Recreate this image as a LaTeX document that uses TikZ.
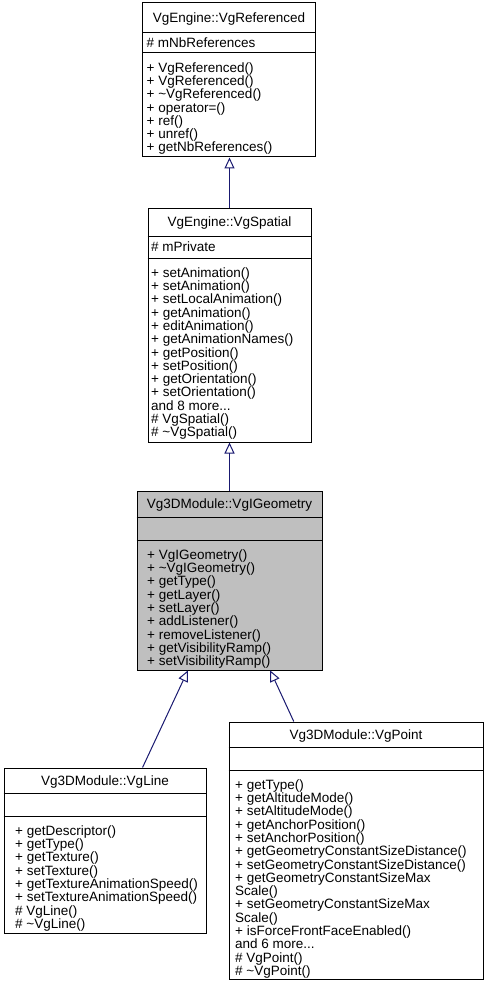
\documentclass[tikz,border=0pt]{standalone}
\usepackage{fontspec}
\newfontfamily\dxfont{Liberation Sans}
\usetikzlibrary{calc,arrows.meta}
\definecolor{edgeblue}{HTML}{191970}
\definecolor{basegray}{HTML}{BFBFBF}

\begin{document}
\begin{tikzpicture}[x=1pt,y=-1pt,
		classbox/.style={draw=black,line width=1pt,inner sep=0pt},
		ctitle/.style={font=\dxfont\fontsize{13.5}{13.3}\selectfont,inner sep=0pt,anchor=base},
		member/.style={font=\dxfont\fontsize{13.5}{13.3}\selectfont,inner sep=0pt,align=left,anchor=north west},
		inherit/.style={draw=edgeblue,line width=1pt,-{Triangle[open,length=11pt,width=10pt]}}]
			\useasboundingbox (0,0) rectangle (484,987);
			\node[classbox,minimum width=173pt,minimum height=154pt] (ref) at (229,80) {};
			\draw[line width=1pt] (ref.west |- 0,33)--(ref.east |- 0,33) (ref.west |- 0,53)--(ref.east |- 0,53);
			\node[ctitle] (ref-name) at (229,22.8) {VgEngine::VgReferenced};
			\node[member,anchor=base west] (ref-attr) at (146.5,48) {\#\ mNbReferences};
			\node[member] (ref-ops) at (146.5,62) {\rule{0pt}{10pt}+ VgReferenced()\\+ VgReferenced()\\+ \textasciitilde VgReferenced()\\+ operator=()\\+ ref()\\+ unref()\\+ getNbReferences()};

			\node[classbox,minimum width=163pt,minimum height=234pt] (spatial) at (229.5,325) {};
			\draw[line width=1pt] (spatial.west |- 0,236)--(spatial.east |- 0,236) (spatial.west |- 0,258)--(spatial.east |- 0,258);
			\node[ctitle] (spatial-name) at (229.5,226.8) {VgEngine::VgSpatial};
			\node[member,anchor=base west] (spatial-attr) at (151,251) {\#\ mPrivate};
			\node[member] (spatial-ops) at (151,267) {\rule{0pt}{10pt}+ setAnimation()\\+ setAnimation()\\+ setLocalAnimation()\\+ getAnimation()\\+ editAnimation()\\+ getAnimationNames()\\+ getPosition()\\+ setPosition()\\+ getOrientation()\\+ setOrientation()\\and 8 more...\\\#\ VgSpatial()\\\#\ \textasciitilde VgSpatial()};

			\node[classbox,fill=basegray,minimum width=185pt,minimum height=179pt] (geom) at (229.5,580.5) {};
			\draw[line width=1pt] (geom.west |- 0,517)--(geom.east |- 0,517) (geom.west |- 0,540)--(geom.east |- 0,540);
			\node[ctitle] (geom-name) at (229.5,508.8) {Vg3DModule::VgIGeometry};
			\node[member] (geom-ops) at (147,549) {\rule{0pt}{10pt}+ VgIGeometry()\\+ \textasciitilde VgIGeometry()\\+ getType()\\+ getLayer()\\+ setLayer()\\+ addListener()\\+ removeListener()\\+ getVisibilityRamp()\\+ setVisibilityRamp()};

			\node[classbox,minimum width=202pt,minimum height=165pt] (line) at (105,850.5) {};
			\draw[line width=1pt] (line.west |- 0,793)--(line.east |- 0,793) (line.west |- 0,816)--(line.east |- 0,816);
			\node[ctitle] (line-name) at (105,785.3) {Vg3DModule::VgLine};
			\node[member] (line-ops) at (15,825) {\rule{0pt}{10pt}+ getDescriptor()\\+ getType()\\+ getTexture()\\+ setTexture()\\+ getTextureAnimationSpeed()\\+ setTextureAnimationSpeed()\\\#\ VgLine()\\\#\ \textasciitilde VgLine()};

			\node[classbox,minimum width=254pt,minimum height=257pt] (point) at (356,850.5) {};
			\draw[line width=1pt] (point.west |- 0,747)--(point.east |- 0,747) (point.west |- 0,770)--(point.east |- 0,770);
			\node[ctitle] (point-name) at (356,739.3) {Vg3DModule::VgPoint};
			\node[member] (point-ops) at (235,779) {\rule{0pt}{10pt}+ getType()\\+ getAltitudeMode()\\+ setAltitudeMode()\\+ getAnchorPosition()\\+ setAnchorPosition()\\+ getGeometryConstantSizeDistance()\\+ setGeometryConstantSizeDistance()\\+ getGeometryConstantSizeMax\\Scale()\\+ setGeometryConstantSizeMax\\Scale()\\+ isForceFrontFaceEnabled()\\and 6 more...\\\#\ VgPoint()\\\#\ \textasciitilde VgPoint()};

			\draw[inherit] (spatial.north)--(spatial.north |- ref.south);
			\draw[inherit] (geom.north)--(spatial.south);
			\draw[inherit] ($(line.north west)!0.685!(line.north east)$)--($(geom.south west)!0.276!(geom.south east)$);
			\draw[inherit] ($(point.north west)!0.256!(point.north east)$)--($(geom.south west)!0.719!(geom.south east)$);
		\end{tikzpicture}
\end{document}
